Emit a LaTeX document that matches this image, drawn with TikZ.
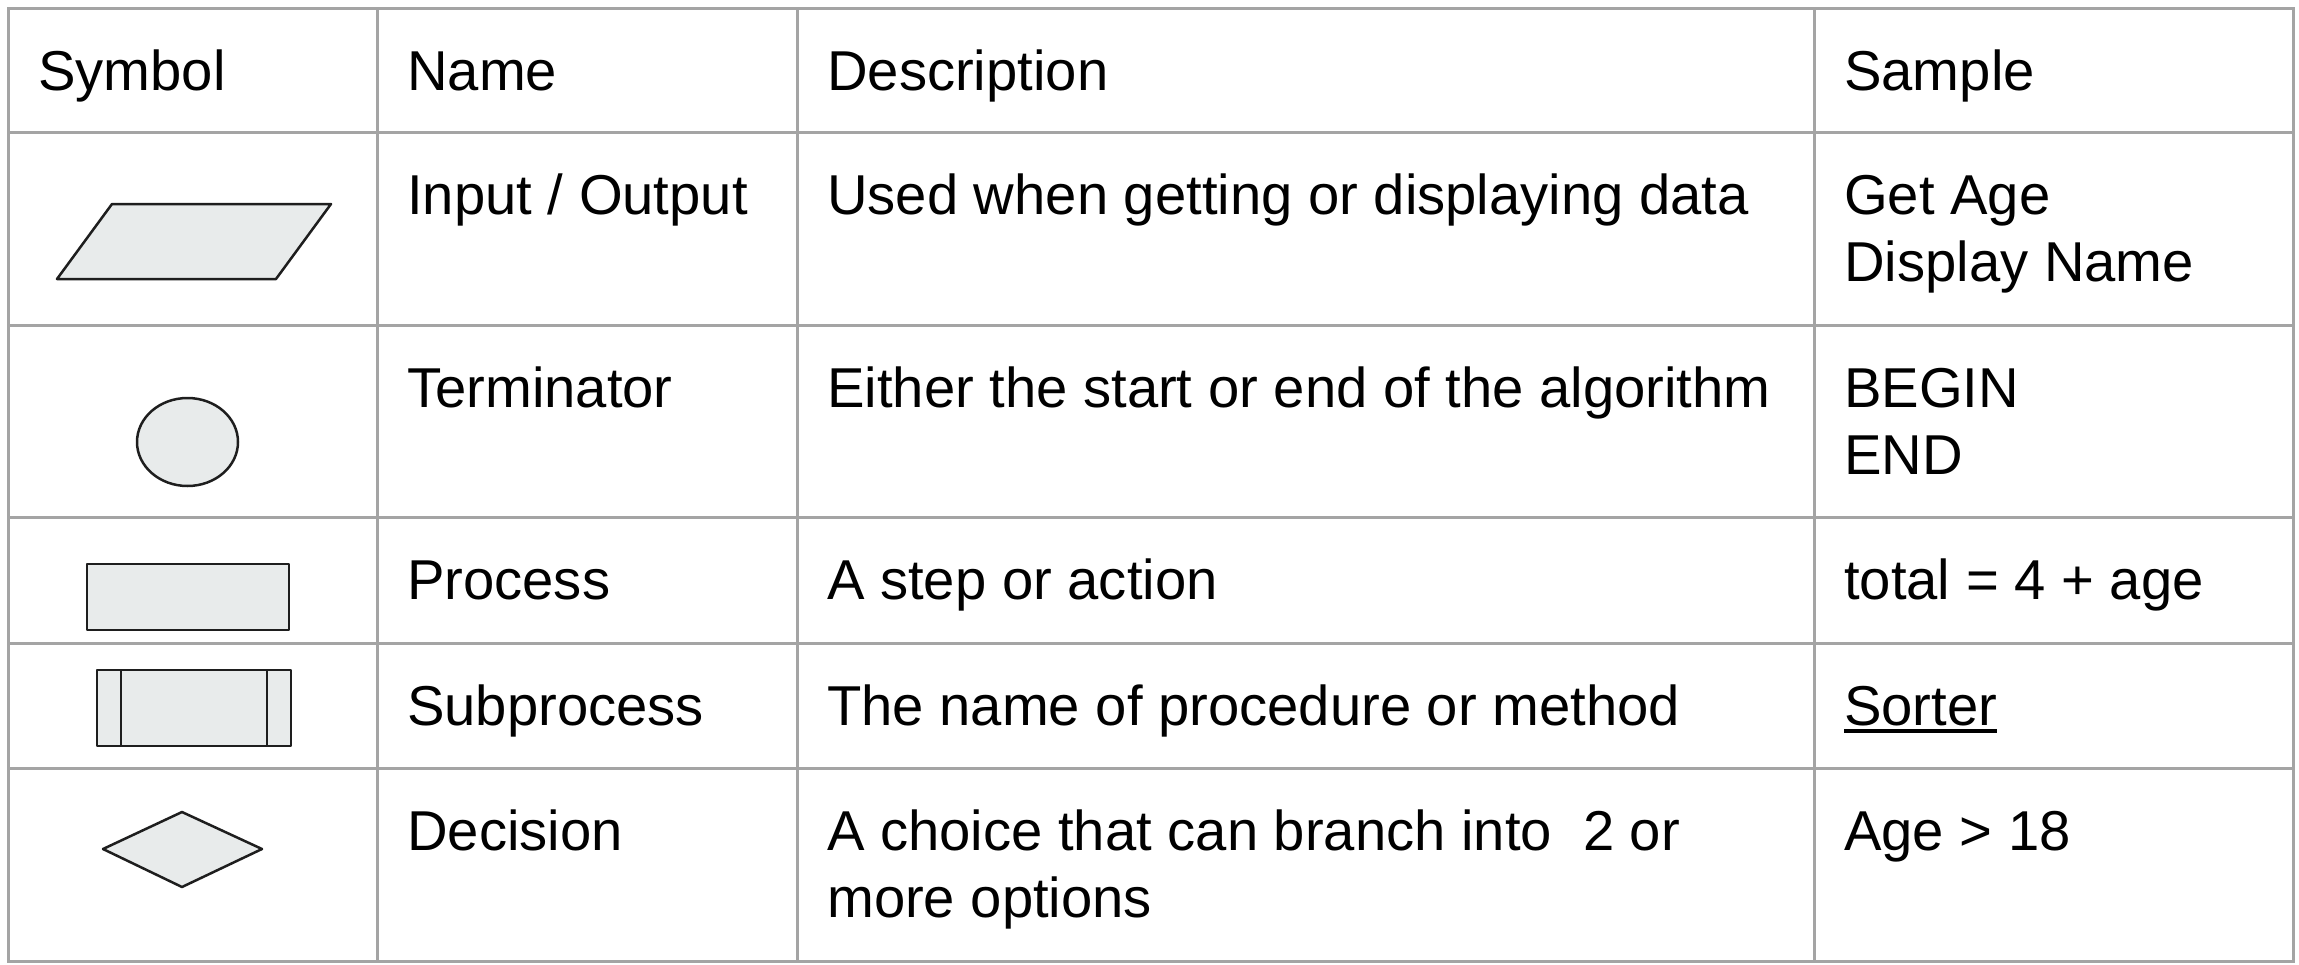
\documentclass[tikz,border=0pt]{standalone}
\usepackage{fontspec}
\setmainfont{Liberation Sans}
\usetikzlibrary{calc}

\definecolor{tablegray}{HTML}{A4A4A4}
\definecolor{symline}{HTML}{1E1E1E}
\definecolor{symfill}{HTML}{E8EBEB}

\begin{document}
\begin{tikzpicture}[x=1pt,y=-1pt,
    every node/.style={anchor=base west,inner sep=0pt,font=\fontsize{56.2}{67}\selectfont},
    grid/.style={draw=tablegray,line width=3pt,line cap=rect},
    sym/.style={draw=symline,fill=symfill,line width=2.5pt,line join=round}]
  \useasboundingbox (0,0) rectangle (2299,964);

  % table rules
  \foreach \y in {132,325,517,643,768}
    \draw[grid] (8,\y) -- (2293,\y);
  \foreach \x in {377,797,1814}
    \draw[grid] (\x,8) -- (\x,961);
  \draw[grid] (8,8) rectangle (2293,961);

  % header
  \node (hsym) at (38,90) {Symbol};
  \node (hname) at (407,90) {Name};
  \node (hdesc) at (827,90) {Description};
  \node (hsample) at (1844,90) {Sample};

  % input / output
  \coordinate (A) at (112,204);
  \coordinate (B) at (331,204);
  \coordinate (C) at (276,279);
  \coordinate (D) at (57,279);
  \draw[sym] (A)--(B)--(C)--(D)--cycle;
  \node (name1) at (407,214) {Input / Output};
  \node (desc1) at (827,214) {Used when getting or displaying data};
  \node (samp1) at (1844,214) {Get Age};
  \node (samp1b) at ($(samp1.base west)+(0,67)$) {Display Name};

  % terminator
  \draw[sym] (187.5,442) ellipse[x radius=50.5,y radius=44];
  \node (name2) at (407,407) {Terminator};
  \node (desc2) at (827,407) {Either the start or end of the algorithm};
  \node (samp2) at (1844,407) {BEGIN};
  \node (samp2b) at ($(samp2.base west)+(0,67)$) {END};

  % process
  \draw[sym] (87,564) rectangle (289,630);
  \node (name3) at (407,599) {Process};
  \node (desc3) at (827,599) {A step or action};
  \node (samp3) at (1844,599) {total = 4 + age};

  % subprocess
  \draw[sym] (97,670) rectangle (291,746);
  \draw[sym] (121,670) -- (121,746);
  \draw[sym] (267,670) -- (267,746);
  \node (name4) at (407,725) {Subprocess};
  \node (desc4) at (827,725) {The name of procedure or method};
  \node (samp4) at (1844,725) {Sorter};
  \draw[line width=3.5pt] ($(samp4.base west)+(0,6)$) -- ($(samp4.base east)+(0,6)$);

  % decision
  \coordinate (A) at (182,812);
  \coordinate (B) at (262,849);
  \coordinate (C) at (182,887);
  \coordinate (D) at (103,849);
  \draw[sym] (A)--(B)--(C)--(D)--cycle;
  \node (name5) at (407,850) {Decision};
  \node (desc5) at (827,850) {A choice that can branch into\ \ 2 or};
  \node (desc5b) at ($(desc5.base west)+(0,67)$) {more options};
  \node (samp5) at (1844,850) {Age > 18};
\end{tikzpicture}
\end{document}
